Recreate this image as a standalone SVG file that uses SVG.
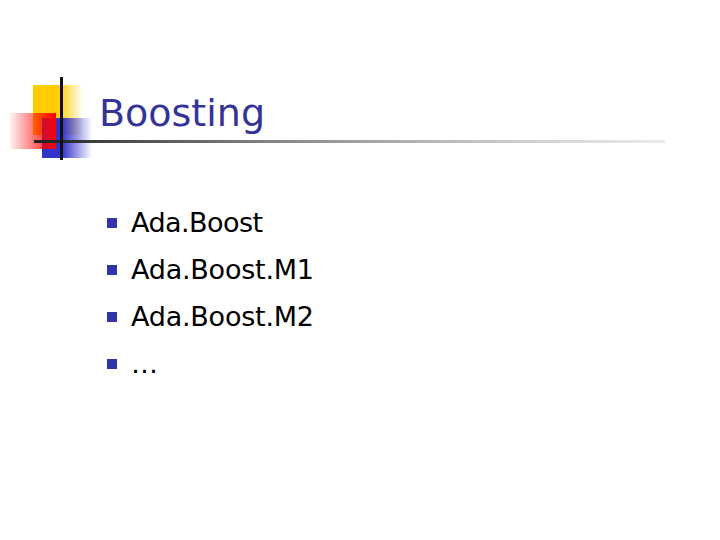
<svg xmlns="http://www.w3.org/2000/svg" width="720" height="540" viewBox="0 0 720 540">
<defs>
<linearGradient id="yg" x1="0" x2="1"><stop offset="0.5" stop-color="#ffcc00"/><stop offset="1" stop-color="#ffcc00" stop-opacity="0"/></linearGradient>
<linearGradient id="rg" x1="1" x2="0"><stop offset="0" stop-color="#ff0000"/><stop offset="1" stop-color="#ff0000" stop-opacity="0.05"/></linearGradient>
<linearGradient id="bg" x1="0" x2="1"><stop offset="0.4" stop-color="#3333cc"/><stop offset="1" stop-color="#3333cc" stop-opacity="0"/></linearGradient>
<linearGradient id="lg" x1="0" x2="1"><stop offset="0" stop-color="#222"/><stop offset="1" stop-color="#999" stop-opacity="0.2"/></linearGradient>
<style>.t{font-family:"DejaVu Sans",sans-serif;fill:#000;font-size:27px}.b{fill:#3333aa}</style>
</defs>
<rect width="720" height="540" fill="#fff"/>
<g id="logo">
<rect x="33" y="85" width="50" height="50" fill="url(#yg)"/>
<rect x="42" y="118" width="50" height="40" fill="url(#bg)"/>
<rect x="10" y="113" width="46" height="36" fill="url(#rg)"/>
<rect x="34" y="140" width="631" height="3" fill="url(#lg)"/>
<rect x="60" y="77" width="3" height="83" fill="#111"/>
</g>
<text x="99" y="126" style="font-family:'DejaVu Sans',sans-serif;font-size:38px;fill:#333399">Boosting</text>
<g id="bullets">
<rect class="b" x="107" y="218" width="10" height="10"/>
<rect class="b" x="107" y="265" width="10" height="10"/>
<rect class="b" x="107" y="312" width="10" height="10"/>
<rect class="b" x="107" y="359" width="10" height="10"/>
<text class="t" x="131" y="232" textLength="132">Ada.Boost</text>
<text class="t" x="131" y="279" textLength="183">Ada.Boost.M1</text>
<text class="t" x="131" y="326" textLength="183">Ada.Boost.M2</text>
<text class="t" x="131" y="373">…</text>
</g>
</svg>
